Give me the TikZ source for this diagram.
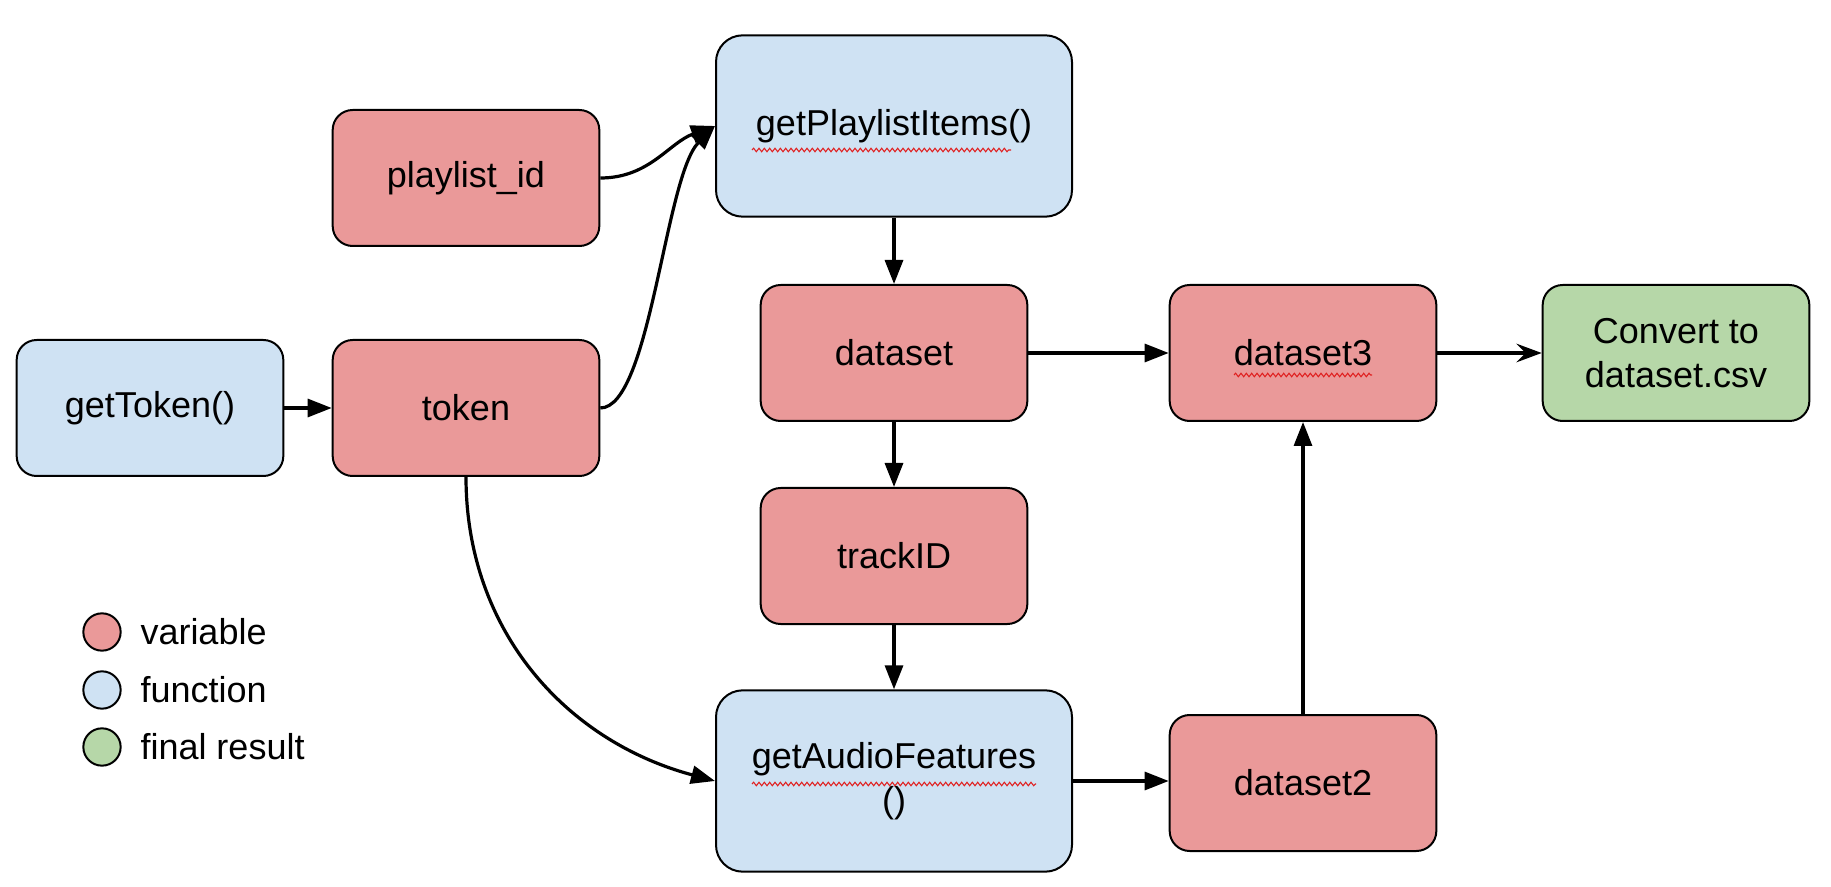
\documentclass[tikz,border=0pt]{standalone}
\usepackage{fontspec}
\setmainfont{Liberation Sans}
\usetikzlibrary{arrows.meta,calc,decorations.pathmorphing}

\tikzset{every picture/.style={line width=0.75pt}}
\tikzset{
  box/.style={draw={rgb, 255:red, 0; green, 0; blue, 0 }, line width=1.5pt, rounded corners=15pt,
    minimum width=200pt, minimum height=102pt, inner sep=0pt, align=center,
    font=\fontsize{27}{33}\selectfont},
  varbox/.style={box, fill={rgb, 255:red, 234; green, 153; blue, 153 }},
  funbox/.style={box, fill={rgb, 255:red, 207; green, 226; blue, 243 }},
  bigfunbox/.style={funbox, minimum width=267pt, minimum height=136pt, rounded corners=20pt},
  resbox/.style={box, fill={rgb, 255:red, 182; green, 215; blue, 168 }},
  flow/.style={line width=2.4pt, -{Triangle[length=18pt,width=13.5pt]}},
  thinflow/.style={line width=2.4pt, -{Stealth[length=19pt,width=14pt,inset=7pt]}},
  legdot/.style={circle, draw={rgb, 255:red, 0; green, 0; blue, 0 }, line width=1.5pt,
    minimum size=28pt, inner sep=0pt},
  legtext/.style={anchor=west, inner sep=0pt, font=\fontsize{27}{33}\selectfont},
  squiggle/.style={draw={rgb, 255:red, 224; green, 32; blue, 32 }, line width=0.8pt,
    decorate, decoration={snake, amplitude=1.3pt, segment length=4pt}}
}

\begin{document}
\begin{tikzpicture}[x=0.75pt,y=0.75pt,yscale=-1,xscale=1]
%set diagram left start at 0, and has height of 887
\useasboundingbox (0,0) rectangle (1831,887);

%Rounded Rect: functions
\node [funbox] (gettoken) at (150,408) {getToken()};
\node [bigfunbox] (gpi) at (894,126) {getPlaylistItems()};
\node [bigfunbox] (gaf) at (894,781) {getAudioFeatures\\()};
%Rounded Rect: variables
\node [varbox] (pid) at (466,178) {playlist\_id};
\node [varbox] (token) at (466,408) {token};
\node [varbox] (dataset) at (894,353) {dataset};
\node [varbox] (trackid) at (894,556) {trackID};
\node [varbox] (dataset2) at (1303,783) {dataset2};
\node [varbox] (dataset3) at (1303,353) {dataset3};
%Rounded Rect: result
\node [resbox] (csv) at (1676,353) {Convert to\\dataset.csv};

%spell check marks
\draw [squiggle] ($(gpi)+(-142,24)$) -- ($(gpi)+(117,24)$);
\draw [squiggle] ($(dataset3)+(-69,22)$) -- ($(dataset3)+(69,22)$);
\draw [squiggle] ($(gaf)+(-142,3)$) -- ($(gaf)+(142,3)$);

%Straight Lines
\draw [flow] (gettoken) -- (token);
\draw [flow] (gpi) -- (dataset);
\draw [flow] (dataset) -- (trackid);
\draw [flow] (trackid) -- (gaf);
\draw [flow] (dataset) -- (dataset3);
\draw [flow] (gaf.east) -- (dataset2.west |- gaf.east);
\draw [flow] (dataset2) -- (dataset3);
\draw [thinflow] (dataset3) -- (csv);

%Curve Lines
\draw [flow] (pid.east) to[out=0,in=160] (gpi.west);
\draw [flow] (token.east) .. controls +(50,0) and +(-50,50) .. (gpi.west);
\draw [flow] (token.south) to[out=90,in=195] (gaf.west);

%Shape: Circle (legend)
\node [legdot, fill={rgb, 255:red, 234; green, 153; blue, 153 }] (legvar) at (102,632) {};
\node [legdot, fill={rgb, 255:red, 207; green, 226; blue, 243 }] (legfun) at (102,690) {};
\node [legdot, fill={rgb, 255:red, 182; green, 215; blue, 168 }] (legres) at (102,747) {};
% Text Node
\node [legtext] (legvartxt) at (140,632) {variable};
% Text Node
\node [legtext] (legfuntxt) at (140,690) {function};
% Text Node
\node [legtext] (legrestxt) at (140,747) {final result};

\end{tikzpicture}
\end{document}
